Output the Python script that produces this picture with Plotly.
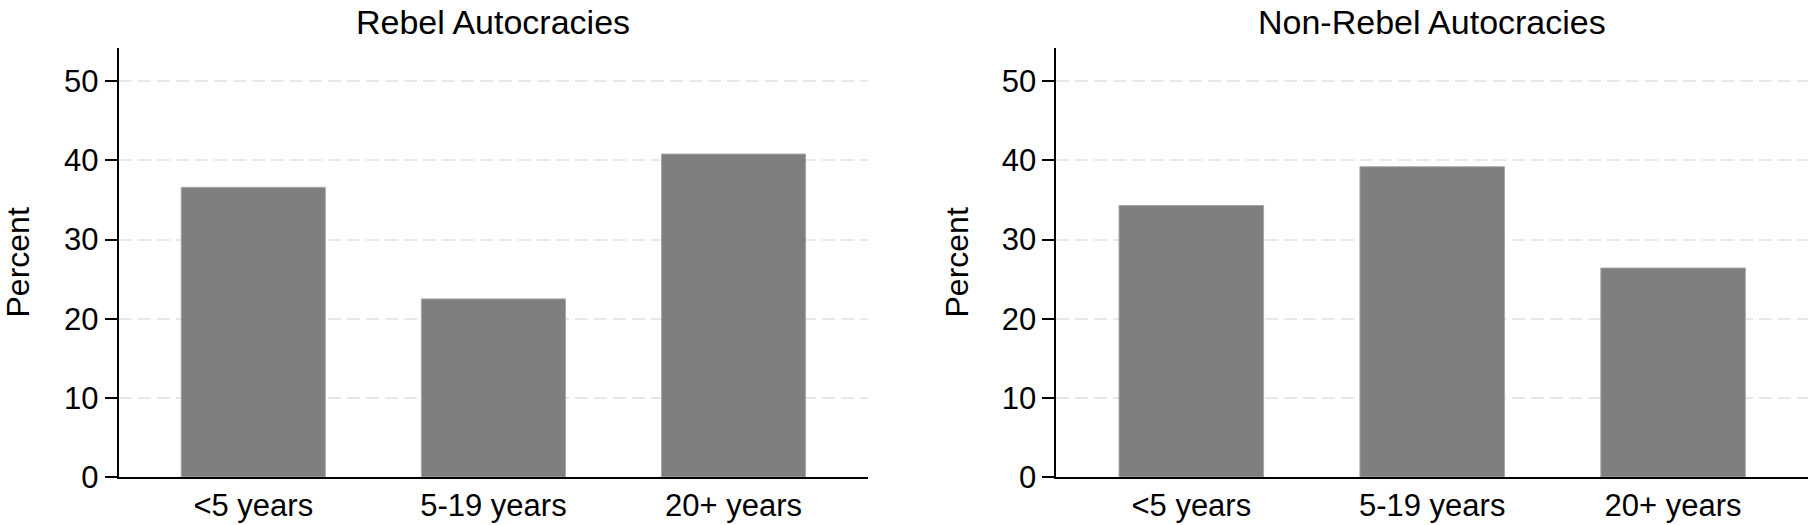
import plotly.graph_objects as go

categories = ["<5 years", "5-19 years", "20+ years"]
rebel_values = [36.6, 22.5, 40.8]
nonrebel_values = [34.3, 39.2, 26.4]
panel_titles = ["Rebel Autocracies", "Non-Rebel Autocracies"]
y_ticks = [0, 10, 20, 30, 40, 50]

FONT = "Liberation Sans, Arial, Helvetica, sans-serif"
BAR_FILL = "#7f7f7f"
BAR_EDGE = "#a6a6a6"

fig = go.Figure()
fig.add_trace(go.Bar(x=categories, y=rebel_values, xaxis="x", yaxis="y",
                     marker=dict(color=BAR_FILL, line=dict(color=BAR_EDGE, width=1)),
                     showlegend=False))
fig.add_trace(go.Bar(x=categories, y=nonrebel_values, xaxis="x2", yaxis="y2",
                     marker=dict(color=BAR_FILL, line=dict(color=BAR_EDGE, width=1)),
                     showlegend=False))

W, H = 1808, 525
TOP, BOT = 48, 48
dom1 = [118.8 / W, 868 / W]
dom2 = [1056.4 / W, 1.0]

xcommon = dict(type="category", range=[-0.56, 2.56], showline=True, linecolor="black",
               linewidth=2, ticks="", showgrid=False, zeroline=False,
               tickfont=dict(family=FONT, size=31, color="black"), ticklabelstandoff=0)
ycommon = dict(range=[0, 54.2], tickvals=y_ticks, showline=True, linecolor="black",
               linewidth=2, ticks="outside", ticklen=12, tickwidth=2, tickcolor="black",
               showgrid=True, gridcolor="#e8e8e8", gridwidth=2, griddash="13px,6px",
               zeroline=False, tickfont=dict(family=FONT, size=31, color="black"),
               ticklabelstandoff=0)

fig.update_layout(
    width=W, height=H,
    margin=dict(l=0, r=0, t=TOP, b=BOT),
    paper_bgcolor="white", plot_bgcolor="white",
    bargap=0.4,
    xaxis=dict(domain=dom1, anchor="y", **xcommon),
    yaxis=dict(domain=[0, 1], anchor="x", **ycommon),
    xaxis2=dict(domain=dom2, anchor="y2", **xcommon),
    yaxis2=dict(domain=[0, 1], anchor="x2", **ycommon),
)

plot_h = H - TOP - BOT
anns = []
for dom, title in zip([dom1, dom2], panel_titles):
    anns.append(dict(text=title, x=(dom[0] + dom[1]) / 2, y=(H - BOT - 21.5) / plot_h,
                     xref="paper", yref="paper", yanchor="middle", xanchor="center",
                     showarrow=False, font=dict(family=FONT, size=34, color="black")))
ylabel_x = [17, 956]
for xpx in ylabel_x:
    anns.append(dict(text="Percent", x=xpx / W, y=0.5, xref="paper", yref="paper",
                     xanchor="center", yanchor="middle", textangle=-90, showarrow=False,
                     font=dict(family=FONT, size=32, color="black")))
fig.update_layout(annotations=anns)

fig.write_html("out.html")
